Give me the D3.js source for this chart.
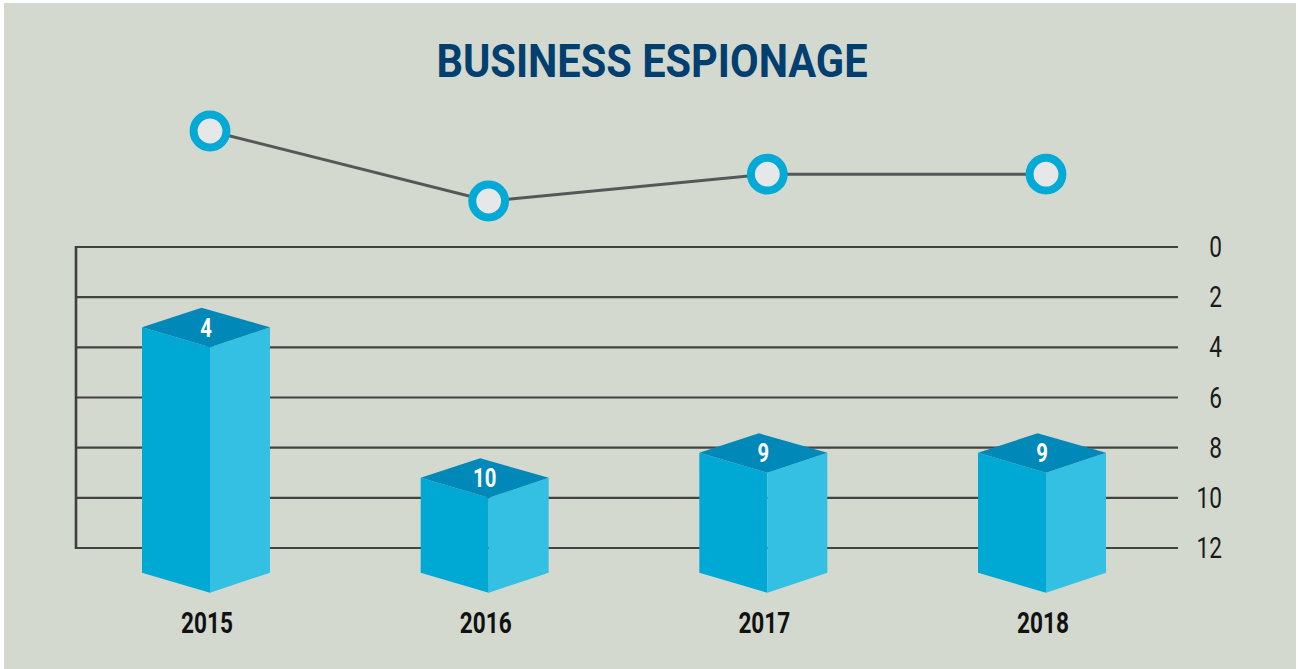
<!DOCTYPE html>
<html>
<head>
<meta charset="utf-8">
<script src="https://cdn.jsdelivr.net/npm/d3@7"></script>
<style>
  html, body { margin: 0; padding: 0; background: #ffffff; }
  svg { display: block; }
  text { font-family: Roboto, "Noto Sans", sans-serif; }
</style>
</head>
<body>
<svg id="chart" width="1298" height="669"></svg>
<script>
// ---- data ----
const title = "BUSINESS ESPIONAGE";
const years = ["2015", "2016", "2017", "2018"];
const rankValues = [4, 10, 9, 9];          // bar values (rank, 0 on top)
const trendValues = [4, 10, 7.7, 7.7];     // line series above the bars
const tickValues = [0, 2, 4, 6, 8, 10, 12];

// ---- layout ----
const W = 1298, H = 669;
const svg = d3.select("#chart");

svg.append("rect").attr("x", 4).attr("y", 3).attr("width", W - 6).attr("height", H - 3)
  .attr("fill", "#d3d9ce");

const x = d3.scalePoint().domain(years).range([210, 1046]);
const y = d3.scaleLinear().domain([0, 12]).range([247, 548]);
const yLine = d3.scaleLinear().domain([4, 10]).range([131, 201]);

const gridLeft = 76, gridRight = 1178;
const condensed = 0.78;

// title
svg.append("text")
  .attr("x", 652).attr("y", 76.5)
  .attr("text-anchor", "middle")
  .attr("font-size", 47).attr("font-weight", 700)
  .attr("fill", "#003f6f")
  .attr("textLength", 431).attr("lengthAdjust", "spacingAndGlyphs")
  .text(title);

// gridlines
const grid = svg.append("g");
grid.selectAll("line.h").data(tickValues).join("line")
  .attr("class", "h")
  .attr("x1", gridLeft).attr("x2", gridRight)
  .attr("y1", d => y(d)).attr("y2", d => y(d))
  .attr("stroke", "#434343").attr("stroke-width", 2.2);
grid.append("line")
  .attr("x1", gridLeft).attr("x2", gridLeft)
  .attr("y1", y(0) - 1).attr("y2", y(12) + 1)
  .attr("stroke", "#3e3e3e").attr("stroke-width", 2.6);

// tick labels on right
grid.selectAll("text.tick").data(tickValues).join("text")
  .attr("class", "tick")
  .attr("transform", d => `translate(1222,${y(d) + 10}) scale(${condensed},1)`)
  .attr("text-anchor", "end")
  .attr("font-size", 29).attr("font-weight", 400)
  .attr("fill", "#1a1a1a")
  .text(d => d);

// bars as 3D boxes
const baseY = y(12) + 44.7;   // front bottom corner
const leftW = 68, rightW = 60, sideDrop = 20, backDx = -8.5, backDy = -39.5;
const bars = svg.append("g");
years.forEach((yr, i) => {
  const fx = x(yr), fy = y(rankValues[i]);
  const g = bars.append("g");
  // left face
  g.append("path")
    .attr("d", `M${fx - leftW},${fy - sideDrop} L${fx},${fy} L${fx},${baseY} L${fx - leftW},${baseY - sideDrop} Z`)
    .attr("fill", "#00a9d4");
  // right face
  g.append("path")
    .attr("d", `M${fx},${fy} L${fx + rightW},${fy - sideDrop} L${fx + rightW},${baseY - sideDrop} L${fx},${baseY} Z`)
    .attr("fill", "#33c0e3");
  // top face
  g.append("path")
    .attr("d", `M${fx - leftW},${fy - sideDrop} L${fx + backDx},${fy + backDy} L${fx + rightW},${fy - sideDrop} L${fx},${fy} Z`)
    .attr("fill", "#0089b8");
  // value label
  g.append("text")
    .attr("transform", `translate(${fx - (leftW - rightW) / 2},${fy - sideDrop + 9.5}) scale(${condensed},1)`)
    .attr("text-anchor", "middle")
    .attr("font-size", 26).attr("font-weight", 700)
    .attr("fill", "#ffffff")
    .text(rankValues[i]);
});

// year labels
svg.append("g").selectAll("text").data(years).join("text")
  .attr("transform", d => `translate(${x(d) - 3},${632.5}) scale(${condensed},1)`)
  .attr("text-anchor", "middle")
  .attr("font-size", 29).attr("font-weight", 700)
  .attr("fill", "#111111")
  .text(d => d);

// line series
const lineData = years.map((yr, i) => ({ yr, v: trendValues[i] }));
const lineGen = d3.line().x(d => x(d.yr)).y(d => yLine(d.v));
svg.append("path").datum(lineData)
  .attr("d", lineGen)
  .attr("fill", "none")
  .attr("stroke", "#555858").attr("stroke-width", 3);
svg.append("g").selectAll("circle").data(lineData).join("circle")
  .attr("cx", d => x(d.yr)).attr("cy", d => yLine(d.v))
  .attr("r", 16.4)
  .attr("fill", "#e6e7e9")
  .attr("stroke", "#03aad5").attr("stroke-width", 8);
</script>
</body>
</html>
